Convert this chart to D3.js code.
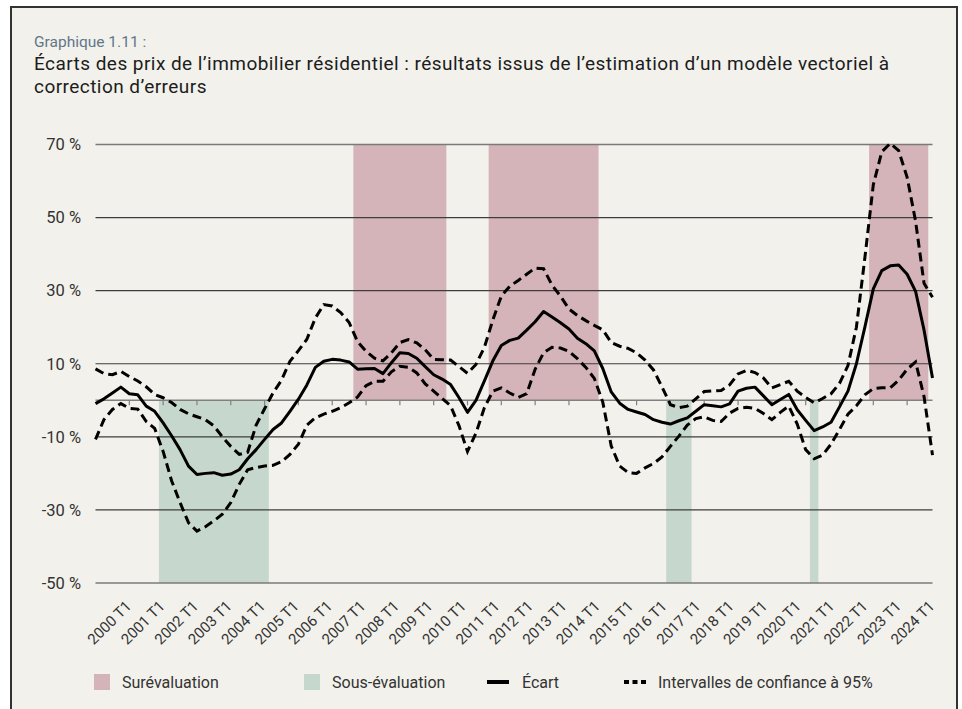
<!DOCTYPE html>
<html lang="fr">
<head>
    <meta charset="UTF-8">
    <script src="https://cdn.jsdelivr.net/npm/d3@7"></script>
    <title>Graphique 1.11</title>
    <style>
        body { margin: 0; background: #ffffff; }
        svg { display: block; font-family: Roboto, "Noto Sans", sans-serif; }
    </style>
</head>
<body>
    <div class="fig"></div>

    <script>
        /*------------------------- Data -------------------------*/
        // years on the axis, quarters are built from them
        const years = d3.range(2000, 2025);
        const quarters = [];
        years.forEach(y => [1, 2, 3, 4].forEach(q => quarters.push(y + " T" + q)));

        const yTicks = [-50, -30, -10, 10, 30, 50, 70];

        // Écart (solid line), 2000 T1 -> 2024 T4
        const ecart = [
            -0.9, 0.4, 2.0, 3.6, 1.8, 1.5, -1.6, -3.0, -6.2, -9.7,
            -13.5, -18, -20.3, -20, -19.8, -20.5, -20.2, -19, -16, -13.5,
            -10.7, -8, -6.2, -3, 0.3, 4.2, 9, 10.7, 11.2, 11,
            10.5, 8.5, 8.6, 8.7, 7.3, 10.3, 13, 12.8, 11.5, 9.2,
            7, 5.8, 4.3, 0.7, -3.3, 0, 5.3, 10.8, 15, 16.4,
            17, 19.2, 21.5, 24.3, 22.8, 21.2, 19.5, 17, 15.5, 13.5,
            8.7, 2.3, -0.8, -2.5, -3.2, -3.9, -5.3, -6, -6.5, -5.6,
            -4.8, -3, -1.2, -1.5, -1.8, -1, 2.5, 3.3, 3.6, 1.2,
            -1.2, 0.2, 1.6, -2.6, -5.5, -8.3, -7.3, -6, -1.8, 2.5,
            10, 20, 30.5, 35.5, 36.8, 37, 34.5, 29.8, 19.2, 6.1
        ];

        // upper bound of the 95% interval
        const upper = [
            8.6, 7.3, 7.0, 7.9, 6.5, 5.3, 3.7, 1.6, 0.7, -0.6,
            -2.5, -3.7, -4.5, -5.3, -7, -10, -12.6, -14.8, -14.2, -6.8,
            -2.3, 2.0, 5.5, 10.7, 13.6, 16.7, 22.5, 26.2, 25.8, 24,
            21.3, 16, 13.4, 11.5, 10.8, 13, 15.8, 16.6, 15.7, 13.8,
            11.2, 11.1, 11, 9.2, 7.4, 9.8, 14.5, 22, 28.5, 31.2,
            32.8, 34.5, 36.2, 36, 31.5, 28.5, 25, 23.2, 21.8, 20.5,
            19.3, 15.8, 14.8, 14.2, 13, 11, 8.3, 3.7, -1.2, -2,
            -1.6, 0.4, 2.4, 2.6, 2.7, 4.2, 7.2, 8.2, 7.6, 6.1,
            3.4, 4.3, 5.2, 2.5, 0.8, -0.7, 0.5, 1.8, 4.6, 9.5,
            20, 39, 59, 68, 70.3, 68.3, 61, 49, 32, 28.2
        ];

        // lower bound of the 95% interval
        const lower = [
            -10.7, -5.3, -2.5, -0.9, -2.2, -2.4, -5.8, -7.7, -14, -22,
            -28, -33.5, -35.8, -34.6, -33, -31.2, -28, -23, -19, -18.4,
            -18, -17.8, -16.8, -14.8, -12, -6.8, -4.8, -3.8, -3, -2,
            -0.7, 0.9, 4, 5.2, 5.2, 7.8, 9.3, 9, 7.5, 4.5,
            2.5, 0.5, -1.5, -7, -14, -9, -2, 2.5, 3.4, 2,
            0.8, 1.8, 8.5, 13, 14.5, 14.3, 13.4, 11.4, 9, 6,
            -0.5, -12.5, -18, -19.8, -20, -18.5, -17.3, -15.5, -12.6, -9.8,
            -6.8, -5, -4.5, -5.5, -5.8, -3.5, -2.2, -1.9, -2.2, -3.6,
            -5.3, -3.3, -1.6, -6.5, -13.5, -16, -15, -12, -8, -3.8,
            -1.5, 1.5, 3.2, 3.4, 3.4, 5.5, 8.5, 10.5, 1, -15
        ];

        // shaded periods (first and last quarter)
        const overBands = [["2007 T4", "2010 T2"], ["2011 T4", "2014 T4"], ["2023 T1", "2024 T3"]];
        const underBands = [["2002 T1", "2005 T1"], ["2017 T1", "2017 T3"], ["2021 T2", "2021 T2"]];

        /*------------------------ Setup -------------------------*/
        const width = 962, height = 709;
        const colOver = "#d5b4b9", colUnder = "#c6d8cd";

        const svg = d3.select(".fig").append("svg")
            .attr("width", width)
            .attr("height", height);

        // frame
        svg.append("rect")
            .attr("x", 11).attr("y", 7)
            .attr("width", 946).attr("height", 720)
            .attr("fill", "#f2f1eb")
            .attr("stroke", "#333")
            .attr("stroke-width", 2);

        // titles
        svg.append("text")
            .attr("x", 34).attr("y", 47)
            .attr("font-size", 15.5)
            .attr("fill", "#62768a")
            .text("Graphique 1.11 :");
        const title = svg.append("text")
            .attr("font-size", 19)
            .attr("letter-spacing", 0.45)
            .attr("fill", "#1c1c1c");
        title.append("tspan").attr("x", 34).attr("y", 70)
            .text("Écarts des prix de l’immobilier résidentiel : résultats issus de l’estimation d’un modèle vectoriel à");
        title.append("tspan").attr("x", 34).attr("y", 93)
            .text("correction d’erreurs");

        /*------------------------ Scales ------------------------*/
        const x = d3.scaleLinear().domain([0, quarters.length - 1]).range([95.5, 932.5]);
        const y = d3.scaleLinear().domain([-50, 70]).range([583, 144.5]);
        const qi = q => quarters.indexOf(q);

        // bands
        const band = (list, col, top, bottom) => {
            svg.append("g").selectAll("rect")
                .data(list)
                .enter()
                .append("rect")
                .attr("x", d => x(qi(d[0]) - 0.5))
                .attr("width", d => x(qi(d[1]) + 0.5) - x(qi(d[0]) - 0.5))
                .attr("y", y(top))
                .attr("height", y(bottom) - y(top))
                .attr("fill", col);
        };
        band(overBands, colOver, 70, 0);
        band(underBands, colUnder, 0, -50);

        // grid
        svg.append("g").selectAll("line")
            .data(yTicks)
            .enter()
            .append("line")
            .attr("x1", x(0)).attr("x2", x(quarters.length - 1))
            .attr("y1", d => y(d)).attr("y2", d => y(d))
            .attr("stroke", d => (d === 70 || d === -50) ? "#7a7a7a" : "#3d3d3d")
            .attr("stroke-width", d => (d === 70 || d === -50) ? 1.6 : 1.1);

        svg.append("g").selectAll("text")
            .data(yTicks)
            .enter()
            .append("text")
            .attr("x", 81)
            .attr("y", d => y(d))
            .attr("dy", "0.35em")
            .attr("text-anchor", "end")
            .attr("font-size", 16.5)
            .attr("fill", "#333")
            .text(d => d + " %");

        // zero line with quarter ticks
        svg.append("line")
            .attr("x1", x(0)).attr("x2", x(quarters.length - 1))
            .attr("y1", y(0)).attr("y2", y(0))
            .attr("stroke", "#808080")
            .attr("stroke-width", 1.6);
        svg.append("g").selectAll("line")
            .data(d3.range(4, quarters.length, 4))
            .enter()
            .append("line")
            .attr("x1", d => x(d)).attr("x2", d => x(d))
            .attr("y1", y(0)).attr("y2", y(0) + 5)
            .attr("stroke", "#808080")
            .attr("stroke-width", 1.2);

        // x labels, one per year
        const labels = years.map(d => d + " T1");
        const xl = d3.scalePoint().domain(labels).range([x(4), x(quarters.length - 1)]);
        svg.append("g").selectAll("text")
            .data(labels)
            .enter()
            .append("text")
            .attr("transform", d => `translate(${xl(d) + 3},607) rotate(-45)`)
            .attr("text-anchor", "end")
            .attr("font-size", 15)
            .attr("fill", "#333")
            .text(d => d);

        /*------------------------ Lines -------------------------*/
        const line = d3.line().x((d, i) => x(i)).y(d => y(d));

        [upper, lower].forEach(s => {
            svg.append("path")
                .attr("d", line(s))
                .attr("fill", "none")
                .attr("stroke", "#000")
                .attr("stroke-width", 3)
                .attr("stroke-dasharray", "9,5");
        });
        svg.append("path")
            .attr("d", line(ecart))
            .attr("fill", "none")
            .attr("stroke", "#000")
            .attr("stroke-width", 3)
            .attr("stroke-linejoin", "round");

        /*------------------------ Legend ------------------------*/
        const lg = svg.append("g").attr("font-size", 16).attr("fill", "#333");
        const ly = 682;
        lg.append("rect").attr("x", 94).attr("y", ly - 8).attr("width", 16).attr("height", 16).attr("fill", colOver);
        lg.append("text").attr("x", 122).attr("y", ly).attr("dy", "0.35em").text("Surévaluation");
        lg.append("rect").attr("x", 304).attr("y", ly - 8).attr("width", 16).attr("height", 16).attr("fill", colUnder);
        lg.append("text").attr("x", 332).attr("y", ly).attr("dy", "0.35em").text("Sous-évaluation");
        lg.append("line").attr("x1", 487).attr("x2", 509).attr("y1", ly).attr("y2", ly)
            .attr("stroke", "#000").attr("stroke-width", 4);
        lg.append("text").attr("x", 522).attr("y", ly).attr("dy", "0.35em").text("Écart");
        lg.append("line").attr("x1", 624).attr("x2", 646).attr("y1", ly).attr("y2", ly)
            .attr("stroke", "#000").attr("stroke-width", 4).attr("stroke-dasharray", "5,3.5");
        lg.append("text").attr("x", 658).attr("y", ly).attr("dy", "0.35em").text("Intervalles de confiance à 95%");
    </script>
</body>
</html>
